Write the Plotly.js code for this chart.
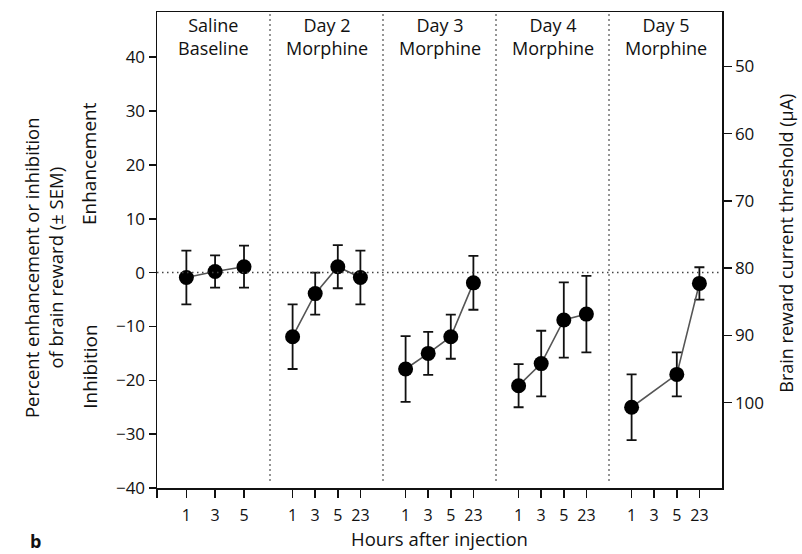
<!DOCTYPE html>
<html><head><meta charset="utf-8">
<script src="https://cdn.plot.ly/plotly-3.0.1.min.js"></script>
<style>html,body{margin:0;padding:0;background:#fff}</style>
</head><body>
<div id="chart" style="width:802px;height:554px"></div>
<script>
// ---- data ----
const panelTitles = ['Saline<br>Baseline','Day 2<br>Morphine','Day 3<br>Morphine','Day 4<br>Morphine','Day 5<br>Morphine'];
const panelTickHours = [[1,3,5],[1,3,5,23],[1,3,5,23],[1,3,5,23],[1,3,5,23]];

const salineHours = [1,3,5];
const salineMean  = [-0.9, 0.2, 1.1];
const salineSem   = [5.0, 3.0, 3.9];

const day2Hours = [1,3,5,23];
const day2Mean  = [-11.9, -3.9, 1.1, -0.9];
const day2Sem   = [6.0, 3.9, 4.0, 5.0];

const day3Hours = [1,3,5,23];
const day3Mean  = [-17.9, -15.0, -11.9, -1.9];
const day3Sem   = [6.1, 4.0, 4.1, 5.0];

const day4Hours = [1,3,5,23];
const day4Mean  = [-21.0, -16.9, -8.8, -7.7];
const day4Sem   = [4.0, 6.1, 7.0, 7.1];

const day5Hours = [1,5,23];
const day5Mean  = [-25.0, -18.9, -2.0];
const day5Sem   = [6.1, 4.1, 3.0];

const leftTicks  = [-40,-30,-20,-10,0,10,20,30,40];
const rightTicks = [50,60,70,80,90,100];

// ---- layout helpers (category -> axis position) ----
const PANEL_W = 5;
const slotMaps = [
  {1:1.3, 3:2.57, 5:3.85},
  {1:1, 3:2, 5:3, 23:4},
  {1:1, 3:2, 5:3, 23:4},
  {1:1, 3:2, 5:3, 23:4},
  {1:1, 3:2, 5:3, 23:4}
];
function xpos(p, h){ return p*PANEL_W + slotMaps[p][h]; }

const series = [
  [salineHours, salineMean, salineSem],
  [day2Hours, day2Mean, day2Sem],
  [day3Hours, day3Mean, day3Sem],
  [day4Hours, day4Mean, day4Sem],
  [day5Hours, day5Mean, day5Sem]
];

const FONT = 'Open Sans, Lato, sans-serif';
const INK = '#111';
const traces = series.map((s,p)=>({
  type:'scatter', mode:'lines+markers',
  x: s[0].map(h=>xpos(p,h)), y: s[1],
  line:{color:'#555', width:1.6},
  marker:{color:'#000', size:15},
  error_y:{type:'data', array:s[2], visible:true, color:INK, thickness:1.8, width:5},
  showlegend:false, hoverinfo:'skip', cliponaxis:false
}));

const tickvals = [0], ticktext = [''];
panelTickHours.forEach((hs,p)=>hs.forEach(h=>{tickvals.push(xpos(p,h)); ticktext.push(String(h));}));

const shapes = [];
shapes.push({type:'line', xref:'x', yref:'y', x0:0, x1:panelTitles.length*PANEL_W, y0:0, y1:0,
  line:{color:'#444', width:1.5, dash:'1.5px,3.5px'}});
for(let p=1;p<panelTitles.length;p++){
  shapes.push({type:'line', xref:'x', yref:'paper', x0:p*PANEL_W, x1:p*PANEL_W, y0:0.015, y1:1,
    line:{color:'#444', width:1.5, dash:'1.5px,3.5px'}});
}

const annotations = panelTitles.map((t,p)=>({
  text:t, xref:'x', yref:'paper', x:p*PANEL_W+PANEL_W/2, y:1, yanchor:'top', xanchor:'center',
  yshift:1, showarrow:false, font:{family:FONT, size:18, color:INK}
}));
annotations.push({text:'Percent enhancement or inhibition<br>of brain reward (± SEM)', xref:'paper', yref:'paper',
  x:-0.202, y:0.464, textangle:-90, showarrow:false, xanchor:'center', yanchor:'middle',
  font:{family:FONT, size:18.5, color:INK}});
annotations.push({text:'Enhancement', xref:'paper', yref:'paper', x:-0.12, y:0.681, textangle:-90,
  showarrow:false, xanchor:'center', yanchor:'middle', font:{family:FONT, size:19, color:INK}});
annotations.push({text:'Inhibition', xref:'paper', yref:'paper', x:-0.12, y:0.255, textangle:-90,
  showarrow:false, xanchor:'center', yanchor:'middle', font:{family:FONT, size:19, color:INK}});
annotations.push({text:'Brain reward current threshold (µA)', xref:'paper', yref:'paper', x:1.113, y:0.515,
  textangle:-90, showarrow:false, xanchor:'center', yanchor:'middle', font:{family:FONT, size:18, color:INK}});
annotations.push({text:'<b>b</b>', xref:'paper', yref:'paper', x:-0.215, y:-0.112, showarrow:false,
  xanchor:'center', yanchor:'middle', font:{family:FONT, size:18, color:INK}});

const layout = {
  width:802, height:554,
  margin:{l:157, r:80, t:12, b:66},
  paper_bgcolor:'#fff', plot_bgcolor:'#fff',
  font:{family:FONT, color:INK},
  xaxis:{range:[0, panelTitles.length*PANEL_W], showgrid:false, zeroline:false,
    showline:true, linecolor:INK, linewidth:1.5, mirror:true,
    ticks:'outside', ticklen:8, tickwidth:1.5, tickcolor:INK,
    tickmode:'array', tickvals:tickvals, ticktext:ticktext, ticklabelstandoff:4,
    tickfont:{family:FONT, size:16, color:INK},
    title:{text:'Hours after injection', font:{family:FONT, size:18.5, color:INK}, standoff:6}},
  yaxis:{range:[-40, 48.4], showgrid:false, zeroline:false,
    showline:true, linecolor:INK, linewidth:1.5,
    ticks:'outside', ticklen:7, tickwidth:1.5, tickcolor:INK,
    tickmode:'array', tickvals:leftTicks,
    tickfont:{family:FONT, size:17, color:INK}},
  yaxis2:{overlaying:'y', side:'right', anchor:'x', range:[112.7, 41.9], showgrid:false, zeroline:false,
    showline:true, linecolor:INK, linewidth:1.5,
    ticks:'outside', ticklen:8, tickwidth:1.5, tickcolor:INK,
    tickmode:'array', tickvals:rightTicks,
    tickfont:{family:FONT, size:17, color:INK}},
  shapes:shapes,
  annotations:annotations
};

traces.push({type:'scatter', x:[null], y:[null], yaxis:'y2', showlegend:false, hoverinfo:'skip'});

Plotly.newPlot('chart', traces, layout, {displayModeBar:false, staticPlot:true});
</script>
</body></html>
